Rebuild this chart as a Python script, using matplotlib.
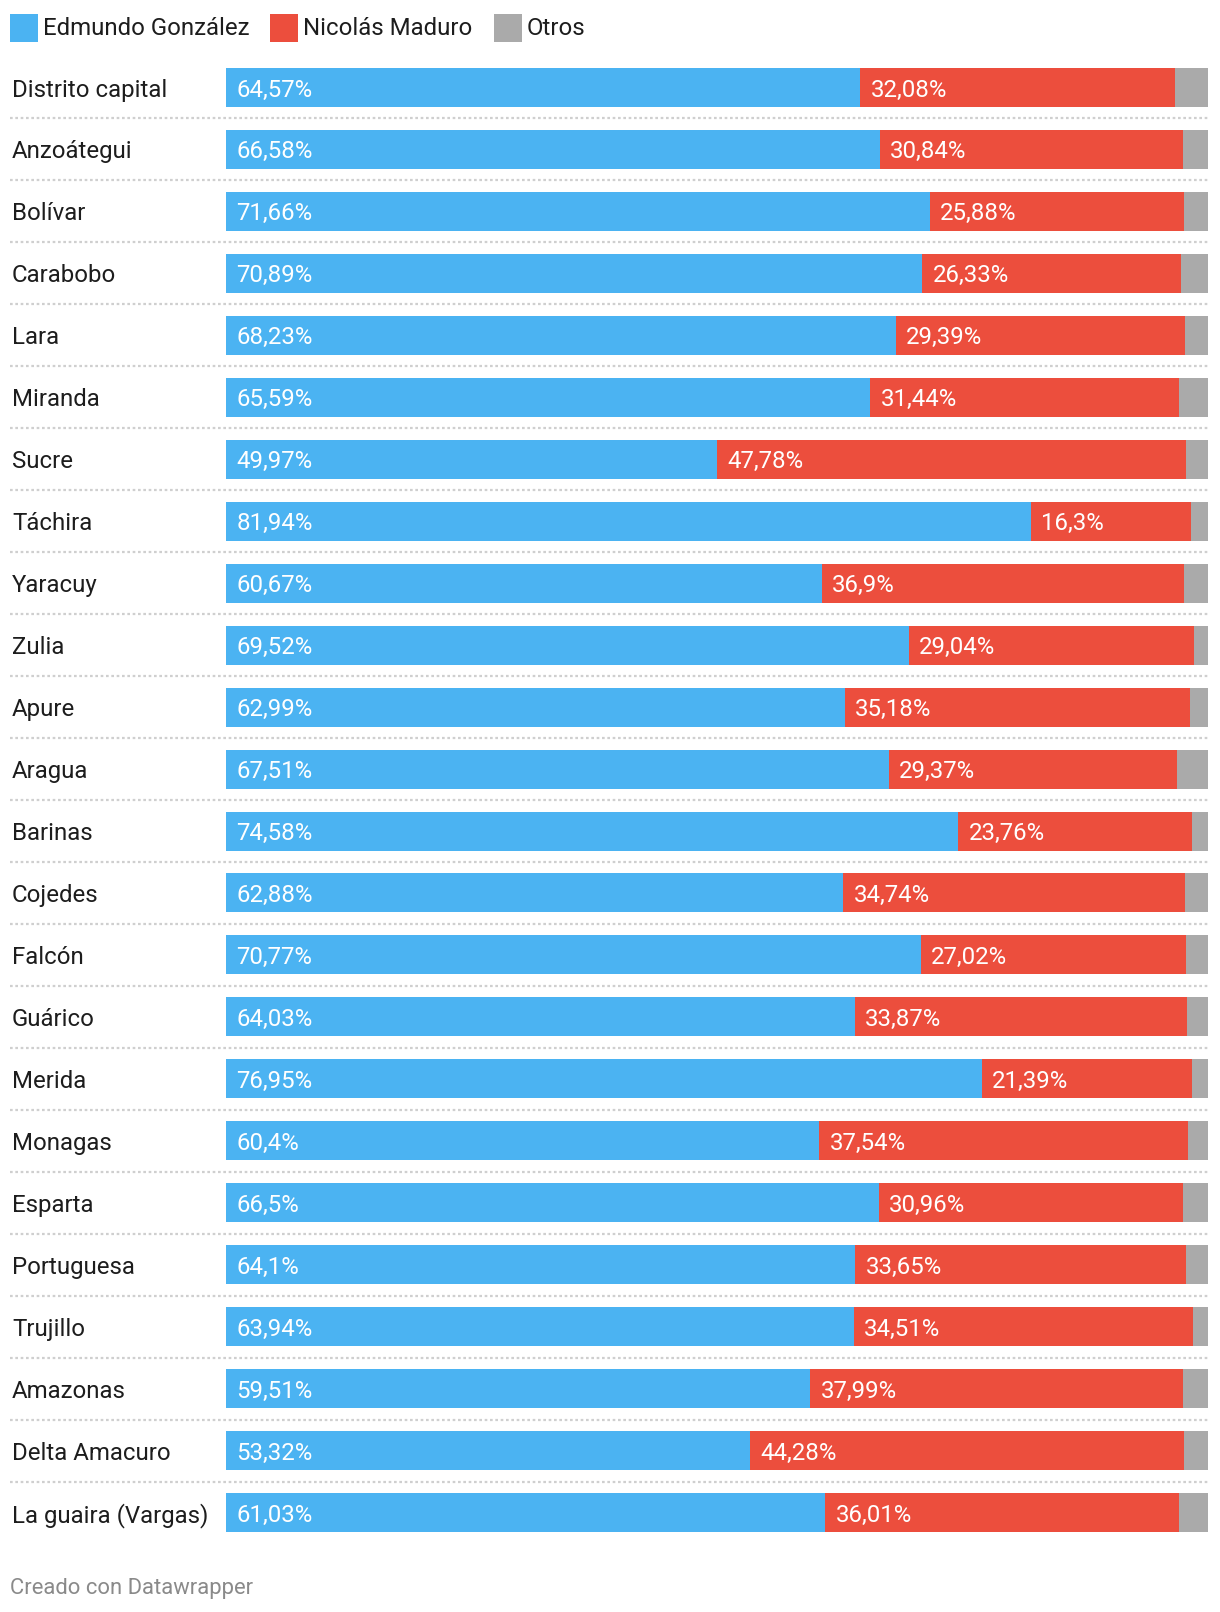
import matplotlib
matplotlib.use("Agg")
import matplotlib.pyplot as plt
from matplotlib.patches import Rectangle
from matplotlib.transforms import blended_transform_factory

plt.rcParams['font.family'] = ['Roboto', 'DejaVu Sans']

# data
states = ["Distrito capital", "Anzoátegui", "Bolívar", "Carabobo", "Lara", "Miranda",
          "Sucre", "Táchira", "Yaracuy", "Zulia", "Apure", "Aragua", "Barinas",
          "Cojedes", "Falcón", "Guárico", "Merida", "Monagas", "Esparta",
          "Portuguesa", "Trujillo", "Amazonas", "Delta Amacuro", "La guaira (Vargas)"]
gonzalez = [64.57, 66.58, 71.66, 70.89, 68.23, 65.59, 49.97, 81.94, 60.67, 69.52,
            62.99, 67.51, 74.58, 62.88, 70.77, 64.03, 76.95, 60.4, 66.5, 64.1,
            63.94, 59.51, 53.32, 61.03]
maduro = [32.08, 30.84, 25.88, 26.33, 29.39, 31.44, 47.78, 16.3, 36.9, 29.04,
          35.18, 29.37, 23.76, 34.74, 27.02, 33.87, 21.39, 37.54, 30.96, 33.65,
          34.51, 37.99, 44.28, 36.01]
otros = [3.35, 2.58, 2.46, 2.78, 2.38, 2.97, 2.25, 1.76, 2.43, 1.44,
         1.83, 3.12, 1.66, 2.38, 2.21, 2.10, 1.66, 2.06, 2.54, 2.25,
         1.55, 2.50, 2.40, 2.96]
series_names = ["Edmundo González", "Nicolás Maduro", "Otros"]

BLUE = "#4bb3f2"
RED = "#ec4e3d"
GREY = "#aaaaaa"
colors = [BLUE, RED, GREY]
FS = 17.3

W, H = 1220, 1612
fig = plt.figure(figsize=(W / 100, H / 100), dpi=100)

pitch = 61.96
top = 87.5 - pitch / 2
n = len(states)
left_px, right_px = 226, 1208
ax = fig.add_axes([left_px / W, 1 - (top + n * pitch) / H,
                   (right_px - left_px) / W, n * pitch / H])
ax.set_xlim(0, 100)
ax.set_ylim(n - 0.5, -0.5)
ax.axis('off')

ypos = list(range(n))
bar_h = 0.63
ax.barh(ypos, gonzalez, height=bar_h, color=BLUE, linewidth=0)
ax.barh(ypos, maduro, left=gonzalez, height=bar_h, color=RED, linewidth=0)
ax.barh(ypos, otros, left=[g + m for g, m in zip(gonzalez, maduro)],
        height=bar_h, color=GREY, linewidth=0)


def fmt(v):
    return f"{v:g}".replace('.', ',') + '%'


pad = 1.05  # percent units, about 10px
for i in range(n):
    ax.text(pad, i, fmt(gonzalez[i]), color='white', fontsize=FS,
            va='center_baseline', ha='left')
    ax.text(gonzalez[i] + pad, i, fmt(maduro[i]), color='white', fontsize=FS,
            va='center_baseline', ha='left')

# row labels and dotted separators
tr = blended_transform_factory(fig.transFigure, ax.transData)
for i, s in enumerate(states):
    fig.text(12 / W, i, s, transform=tr, fontsize=FS, color='#1d1d1d',
             va='center_baseline', ha='left')
for i in range(n - 1):
    ax.plot([10 / W, right_px / W], [i + 0.5, i + 0.5], transform=tr,
            color='#cfcfcf', linewidth=1.6, linestyle=(0, (1.2, 1.2)),
            clip_on=False)

# legend
leg_x = [10, 270, 494]
for x0, name, c in zip(leg_x, series_names, colors):
    fig.patches.append(Rectangle((x0 / W, 1 - 42 / H), 28 / W, 28 / H,
                                 transform=fig.transFigure, color=c, linewidth=0))
    fig.text((x0 + 33) / W, 1 - 26 / H, name, fontsize=FS, color='#1d1d1d',
             va='center_baseline', ha='left')

fig.text(10 / W, 1 - 1586 / H, "Creado con Datawrapper", fontsize=15.8,
         color='#8a8a8a', va='center_baseline', ha='left')

fig.savefig("out.png", dpi=100, facecolor='white')
